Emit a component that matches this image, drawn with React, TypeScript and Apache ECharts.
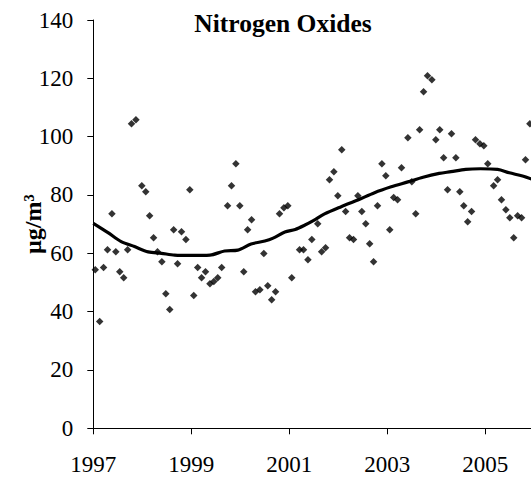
import React, { useEffect, useRef } from "react";
import * as echarts from "echarts";

const chartTitle = "Nitrogen Oxides";
const yAxisName = "µg/m³";
const yTicks = [0, 20, 40, 60, 80, 100, 120, 140];
const xLabelYears = [1997, 1999, 2001, 2003, 2005];

// Monthly observations: [year, value]
const obsYears = [
  1997.04, 1997.13, 1997.21, 1997.29, 1997.38, 1997.46, 1997.54, 1997.62, 1997.70, 1997.78,
  1997.87, 1997.99, 1998.07, 1998.15, 1998.23, 1998.31, 1998.40, 1998.48, 1998.56, 1998.64,
  1998.72, 1998.80, 1998.89, 1998.97, 1999.05, 1999.13, 1999.21, 1999.29, 1999.38, 1999.46,
  1999.54, 1999.62, 1999.74, 1999.82, 1999.91, 1999.99, 2000.07, 2000.15, 2000.23, 2000.31,
  2000.40, 2000.48, 2000.56, 2000.64, 2000.72, 2000.80, 2000.89, 2000.97, 2001.05, 2001.21,
  2001.29, 2001.38, 2001.46, 2001.58, 2001.66, 2001.74, 2001.82, 2001.91, 2001.99, 2002.07,
  2002.15, 2002.23, 2002.31, 2002.40, 2002.48, 2002.56, 2002.64, 2002.72, 2002.80, 2002.89,
  2002.97, 2003.05, 2003.13, 2003.21, 2003.29, 2003.42, 2003.50, 2003.58, 2003.66, 2003.74,
  2003.82, 2003.91, 2003.99, 2004.07, 2004.15, 2004.23, 2004.31, 2004.40, 2004.48, 2004.56,
  2004.64, 2004.72, 2004.80, 2004.89, 2004.97, 2005.05, 2005.17, 2005.25, 2005.33, 2005.42,
  2005.50, 2005.58, 2005.66, 2005.74, 2005.82, 2005.91,
];
const obsValues = [
  54.4, 36.6, 55.1, 61.2, 73.6, 60.5, 53.7, 51.6, 61.2, 104.4,
  105.8, 83.2, 81.1, 72.9, 65.3, 60.5, 57.1, 46.1, 40.7, 68.1,
  56.4, 67.4, 64.7, 81.8, 45.5, 55.1, 51.6, 53.7, 49.6, 50.3,
  51.6, 55.1, 76.3, 83.2, 90.7, 76.3, 53.7, 68.1, 71.5, 46.8,
  47.5, 59.9, 48.9, 44.1, 46.8, 73.6, 75.6, 76.3, 51.6, 61.2,
  61.2, 57.8, 64.7, 70.1, 60.5, 61.9, 85.2, 88.0, 79.7, 95.5,
  74.3, 65.3, 64.7, 79.7, 74.3, 70.1, 63.3, 57.1, 76.3, 90.7,
  86.6, 68.1, 79.1, 78.4, 89.3, 99.6, 84.5, 73.6, 102.4, 115.4,
  120.9, 119.5, 98.9, 102.4, 92.8, 81.8, 101.0, 92.8, 81.1, 76.3,
  70.8, 74.3, 98.9, 97.6, 96.9, 90.7, 83.2, 85.2, 78.4, 74.9,
  72.2, 65.3, 72.9, 72.2, 92.1, 104.4,
];

// Smoothed trend
const trendYears = [
  1997.0, 1997.3, 1997.57, 1997.84, 1998.12, 1998.39, 1998.66, 1999.0, 1999.38, 1999.68,
  1999.95, 2000.22, 2000.5, 2000.67, 2000.91, 2001.12, 2001.32, 2001.49, 2001.72, 2002.06,
  2002.4, 2002.74, 2003.08, 2003.42, 2003.73, 2004.06, 2004.3, 2004.6, 2004.9, 2005.25,
  2005.49, 2005.76, 2006.0,
];
const trendValues = [
  70.3, 67.1, 64.0, 62.3, 60.5, 60.0, 59.4, 59.3, 59.4, 60.8,
  61.1, 63.2, 64.2, 65.2, 67.3, 68.2, 69.7, 71.2, 73.5, 76.0,
  78.3, 80.8, 82.8, 84.5, 86.1, 87.4, 88.0, 88.8, 89.0, 88.8,
  87.6, 86.5, 85.1,
];

const FONT = "Liberation Serif";

export default function App() {
  const ref = useRef<HTMLDivElement>(null);
  useEffect(() => {
    if (!ref.current) return;
    const chart = echarts.init(ref.current, undefined, { renderer: "svg" });
    const scatterData = obsYears.map((y, i) => [y, obsValues[i]]);
    const trendData = trendYears.map((y, i) => [y, trendValues[i]]);
    chart.setOption({
      animation: false,
      backgroundColor: "#fff",
      textStyle: { fontFamily: FONT },
      title: {
        text: chartTitle,
        left: 278,
        top: 5,
        textAlign: "center",
        textStyle: { fontFamily: FONT, fontWeight: "bold", fontSize: 25.5, color: "#000" },
      },
      grid: {
        left: 93.3,
        right: -3.3,
        top: 20,
        bottom: 55.7,
        containLabel: false,
        outerBoundsMode: "none",
      },
      xAxis: {
        type: "value",
        min: 1997,
        max: 2006,
        interval: 2,
        axisLine: { show: true, lineStyle: { color: "#000", width: 1 } },
        axisTick: { show: true, length: 6, lineStyle: { color: "#000" } },
        splitLine: { show: false },
        axisLabel: {
          margin: 25,
          fontFamily: FONT,
          fontSize: 23,
          color: "#000",
          showMaxLabel: false,
          formatter: (v: number) => (xLabelYears.includes(v) ? String(v) : ""),
        },
      },
      yAxis: {
        type: "value",
        min: yTicks[0],
        max: yTicks[yTicks.length - 1],
        interval: 20,
        name: yAxisName,
        nameLocation: "middle",
        nameGap: 48,
        nameMoveOverlap: false,
        nameTextStyle: { fontFamily: FONT, fontWeight: "bold", fontSize: 24, color: "#000" },
        axisLine: { show: true, lineStyle: { color: "#000", width: 1 } },
        axisTick: { show: true, length: 6, lineStyle: { color: "#000" } },
        splitLine: { show: false },
        axisLabel: { margin: 20, fontFamily: FONT, fontSize: 23, color: "#000" },
      },
      series: [
        {
          type: "scatter",
          data: scatterData,
          symbol: "diamond",
          symbolSize: 7.5,
          itemStyle: { color: "#000" },
          z: 3,
        },
        {
          type: "line",
          data: trendData,
          smooth: 0.3,
          showSymbol: false,
          lineStyle: { color: "#000", width: 3.2 },
          z: 2,
        },
      ],
    });
    return () => chart.dispose();
  }, []);
  return (
    <div
      ref={ref}
      style={{ position: "fixed", left: 0, top: 0, width: 531, height: 484, background: "#fff" }}
    />
  );
}
